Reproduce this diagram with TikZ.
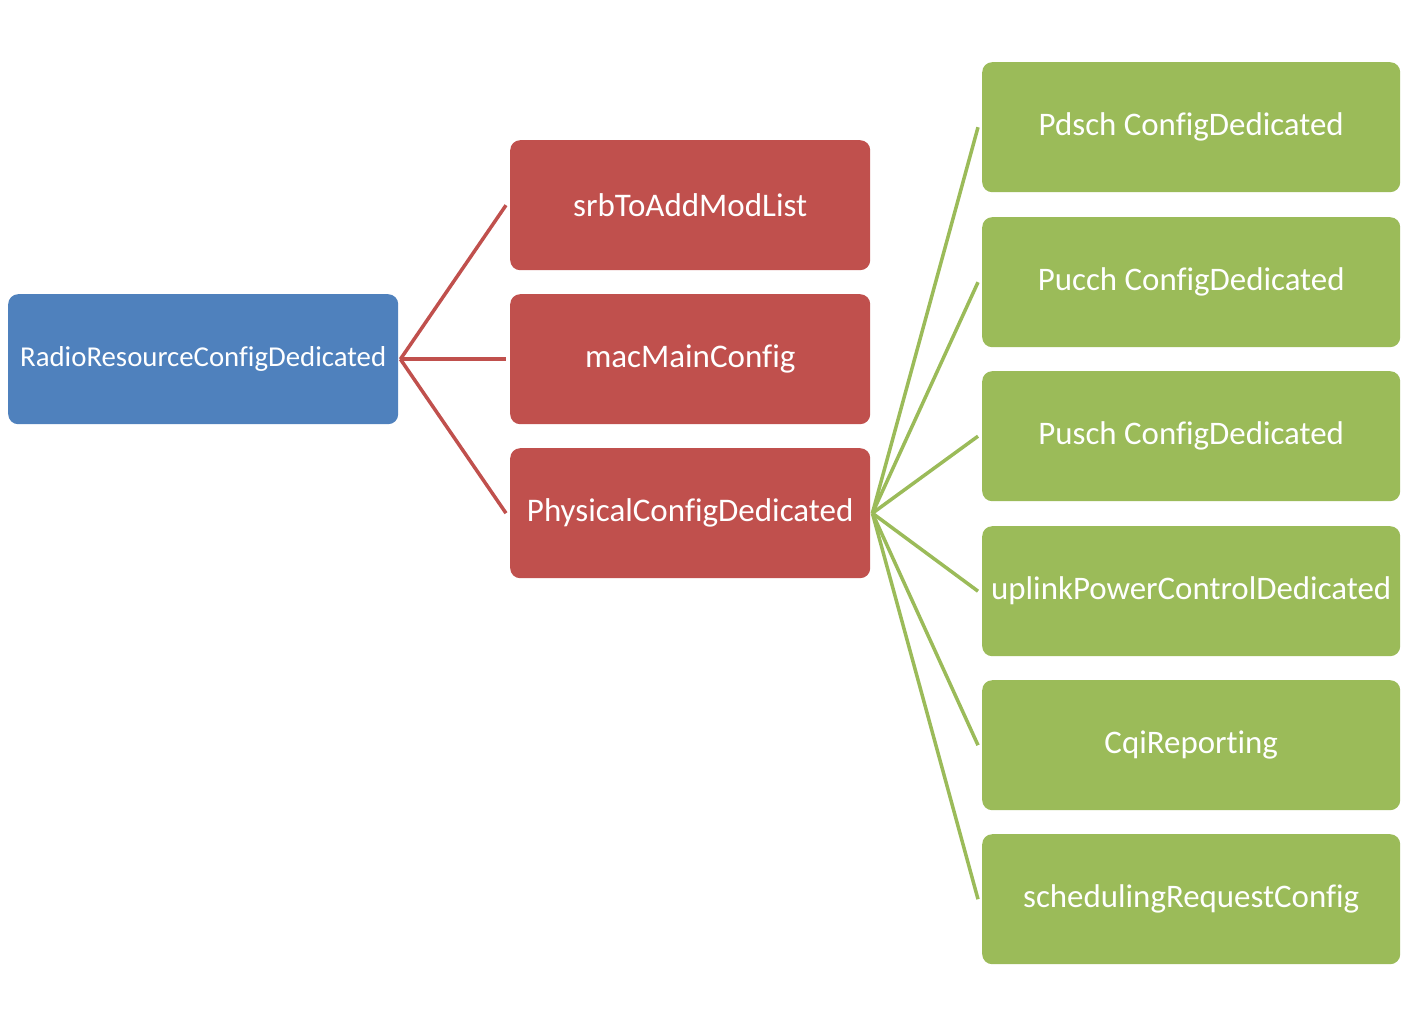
\documentclass[tikz,border=0pt]{standalone}
\usepackage{fontspec}
\setmainfont[Ligatures={NoCommon}]{Carlito}
\definecolor{cblue}{HTML}{4F81BD}
\definecolor{cred}{HTML}{C0504D}
\definecolor{cgreen}{HTML}{9BBB59}
\begin{document}
\begin{tikzpicture}[x=1pt,y=-1pt,
  box/.style={rounded corners=10pt,inner sep=0pt,text=white,anchor=north west},
  bluebox/.style={box,fill=cblue,minimum width=390pt,minimum height=130pt,font=\fontsize{28.8}{33}\selectfont},
  redbox/.style={box,fill=cred,minimum width=360pt,minimum height=130pt,font=\fontsize{33}{38}\selectfont},
  greenbox/.style={box,fill=cgreen,minimum width=418pt,minimum height=130pt,font=\fontsize{32.9}{38}\selectfont},
  redline/.style={draw=cred,line width=3.5pt},
  greenline/.style={draw=cgreen,line width=3.5pt}]
\useasboundingbox (0,0) rectangle (1412,1027);
\node[bluebox] (root) at (8,294) {RadioResourceConfigDedicated};
\node[redbox] (srb) at (510,140) {srbToAddModList};
\node[redbox] (mac) at (510,294) {macMainConfig};
\node[redbox] (phy) at (510,448) {PhysicalConfigDedicated};
\node[greenbox] (g1) at (982,62) {Pdsch ConfigDedicated};
\node[greenbox] (g2) at (982,217) {Pucch ConfigDedicated};
\node[greenbox] (g3) at (982,371) {Pusch ConfigDedicated};
\node[greenbox] (g4) at (982,526) {uplinkPowerControlDedicated};
\node[greenbox] (g5) at (982,680) {CqiReporting};
\node[greenbox] (g6) at (982,834) {schedulingRequestConfig};
\coordinate (rs) at ([xshift=2pt]root.east);
\foreach \n in {srb,mac,phy}
  \draw[redline] (rs) -- ([xshift=-4pt]\n.west);
\coordinate (ps) at ([xshift=2pt]phy.east);
\foreach \n in {g1,g2,g3,g4,g5,g6}
  \draw[greenline] (ps) -- ([xshift=-4pt]\n.west);
\end{tikzpicture}
\end{document}
